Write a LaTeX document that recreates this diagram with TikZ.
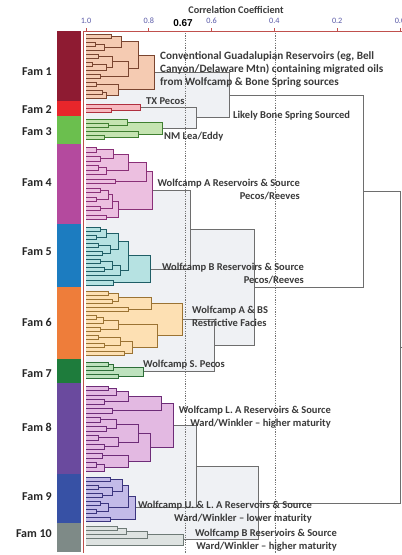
\documentclass[tikz,border=0pt]{standalone}
\usepackage{fontspec}
\setmainfont{Carlito}
\newfontfamily\arialfont{Liberation Sans}
\usetikzlibrary{calc}
\pgfdeclarelayer{bg}
\pgfdeclarelayer{G4}\pgfdeclarelayer{G3}\pgfdeclarelayer{G2}\pgfdeclarelayer{G1}
\pgfdeclarelayer{L6}\pgfdeclarelayer{L5}\pgfdeclarelayer{L4}\pgfdeclarelayer{L3}\pgfdeclarelayer{L2}\pgfdeclarelayer{L1}
\pgfsetlayers{bg,G4,G3,G2,G1,L6,L5,L4,L3,L2,L1,main}
\definecolor{AnnC}{HTML}{3A3A3A}
\definecolor{TickC}{HTML}{5A5AA8}
\definecolor{AxisC}{HTML}{C0504D}
\definecolor{B1}{HTML}{8E1B32}
\definecolor{B2}{HTML}{E8262B}
\definecolor{B3}{HTML}{6BBF4E}
\definecolor{B4}{HTML}{B44A9E}
\definecolor{B5}{HTML}{1C7CC0}
\definecolor{B6}{HTML}{EE7D3A}
\definecolor{B7}{HTML}{1E7C3C}
\definecolor{B8}{HTML}{6A4A9E}
\definecolor{B9}{HTML}{3751A5}
\definecolor{B10}{HTML}{7E8A87}
\newcommand\famstyle[3]{\definecolor{#1F}{HTML}{#2}\definecolor{#1L}{HTML}{#3}%
  \tikzset{#1fill/.style={fill=#1F},#1line/.style={draw=#1L,line width=0.65pt}}}
\famstyle{f1}{F5CBB2}{7A4530}
\famstyle{f2}{F7B9C0}{B0303F}
\famstyle{f3}{C5E4B1}{3F7F30}
\famstyle{f4}{ECBFE0}{8A3078}
\famstyle{f5}{B6E2E2}{1F5E66}
\famstyle{f6}{FDE0B3}{9B7333}
\famstyle{f7}{BEE2BE}{2D6E38}
\famstyle{f8}{E3B9E2}{6E2C78}
\famstyle{f9}{C3BBE8}{3B357E}
\famstyle{f10}{DEE3E1}{6E7A76}
\famstyle{g}{EFF1F4}{6E6E6E}
\definecolor{tL}{HTML}{6E6E6E}
\tikzset{tfill/.style={},tline/.style={draw=tL,line width=0.65pt}}
% merge box: layer, name, x, child a, child b, style prefix
\newcommand\mrg[6]{%
  \begin{pgfonlayer}{#1}
  \path let \p1=(#4),\p2=(#5) in (#3pt,{(\y1+\y2)/2}) coordinate (#2);
  \path[#6fill] let \p1=(#4),\p2=(#5) in (86pt,\y1) rectangle (#3pt,\y2);
  \path[#6line] let \p1=(#4),\p2=(#5) in (\x1,\y1) -- (#3pt,\y1) -- (#3pt,\y2) -- (\x2,\y2);
  \end{pgfonlayer}}
\tikzset{
  ann/.style={font=\bfseries\fontsize{10.5}{13}\selectfont,text=AnnC,inner sep=0pt},
  famlab/.style={font=\bfseries\fontsize{12}{13}\selectfont,text=black!85,inner sep=0pt,anchor=east},
  ticklab/.style={font=\fontsize{8.2}{9}\selectfont,text=TickC,inner sep=0pt},
  axisline/.style={draw=AxisC,line width=0.8pt},
  dashline/.style={draw=black!55,line width=0.7pt,dash pattern=on 1.2pt off 1.2pt}
}
\begin{document}
\begin{tikzpicture}[x=1pt,y=-1pt]
\useasboundingbox (0,0) rectangle (402,555);
\begin{pgfonlayer}{bg}\fill[white] (0,0) rectangle (402,555);\end{pgfonlayer}
% ---------- Fam 1
\mrg{L1}{f1c1}{111}{86,34}{86,38}{f1}
\mrg{L1}{f1c2}{95}{86,42}{86,46}{f1}
\mrg{L1}{f1c5}{98}{86,54}{86,58}{f1}
\mrg{L1}{f1c6}{92}{86,62}{86,66}{f1}
\mrg{L1}{f1c9}{100}{86,74}{86,78}{f1}
\mrg{L1}{f1c11}{96}{86,82}{86,86}{f1}
\mrg{L1}{f1c12}{102}{86,90}{86,94}{f1}
\mrg{L2}{f1c3}{104}{f1c2}{86,50}{f1}
\mrg{L2}{f1c7}{106}{f1c6}{86,70}{f1}
\mrg{L2}{f1c13}{106}{f1c12}{86,98}{f1}
\mrg{L3}{f1c4}{121}{f1c1}{f1c3}{f1}
\mrg{L3}{f1c8}{112}{f1c5}{f1c7}{f1}
\mrg{L3}{f1B}{118}{f1c11}{f1c13}{f1}
\mrg{L4}{f1c10}{128}{f1c8}{f1c9}{f1}
\mrg{L5}{f1A}{138}{f1c4}{f1c10}{f1}
\mrg{L6}{f1}{154}{f1A}{f1B}{f1}
% ---------- Fam 2
\mrg{L1}{f2a}{111}{86,108}{86,112}{f2}
\mrg{L2}{f2}{140}{86,104}{f2a}{f2}
% ---------- Fam 3
\mrg{L1}{f3a}{108}{86,123}{86,127}{f3}
\mrg{L1}{f3c}{104}{86,135}{86,139}{f3}
\mrg{L2}{f3b}{127}{86,119}{f3a}{f3}
\mrg{L2}{f3d}{138}{86,131}{f3c}{f3}
\mrg{L3}{f3}{162}{f3b}{f3d}{f3}
% ---------- Fam 4
\mrg{L1}{f4u1}{96}{86,147}{86,152}{f4}
\mrg{L1}{f4u2}{100}{86,156}{86,161}{f4}
\mrg{L1}{f4u4}{98}{86,165}{86,170}{f4}
\mrg{L1}{f4u7}{115}{86,179}{86,183}{f4}
\mrg{L1}{f4d1}{100}{86,188}{86,192}{f4}
\mrg{L1}{f4d2}{96}{86,197}{86,201}{f4}
\mrg{L1}{f4d4}{100}{86,206}{86,210}{f4}
\mrg{L1}{f4d6}{106}{86,215}{86,219}{f4}
\mrg{L2}{f4u3}{113}{f4u1}{f4u2}{f4}
\mrg{L2}{f4u5}{106}{f4u4}{86,174}{f4}
\mrg{L2}{f4d3}{108}{f4d1}{f4d2}{f4}
\mrg{L3}{f4u6}{128}{f4u3}{f4u5}{f4}
\mrg{L3}{f4d5}{112}{f4d3}{f4d4}{f4}
\mrg{L4}{f4U}{146}{f4u6}{f4u7}{f4}
\mrg{L4}{f4D}{118}{f4d5}{f4d6}{f4}
\mrg{L5}{f4}{152}{f4U}{f4D}{f4}
% ---------- Fam 5
\mrg{L1}{f5a1}{100}{86,227}{86,231}{f5}
\mrg{L1}{f5a2}{96}{86,235}{86,239}{f5}
\mrg{L1}{f5a4}{98}{86,243}{86,247}{f5}
\mrg{L1}{f5a5}{102}{86,251}{86,255}{f5}
\mrg{L1}{f5a7}{100}{86,259}{86,263}{f5}
\mrg{L1}{f5a8}{104}{86,267}{86,271}{f5}
\mrg{L1}{f5B}{113}{86,280}{86,285}{f5}
\mrg{L2}{f5a3}{106}{f5a1}{f5a2}{f5}
\mrg{L2}{f5a6}{110}{f5a4}{f5a5}{f5}
\mrg{L2}{f5a9}{112}{f5a7}{f5a8}{f5}
\mrg{L3}{f5aa}{118}{f5a3}{f5a6}{f5}
\mrg{L3}{f5a10}{120}{f5a9}{86,275}{f5}
\mrg{L4}{f5A}{128}{f5aa}{f5a10}{f5}
\mrg{L5}{f5}{150}{f5A}{f5B}{f5}
% ---------- Fam 6
\mrg{L1}{f6u1}{108}{86,291}{86,295}{f6}
\mrg{L1}{f6u2}{112}{86,299}{86,303}{f6}
\mrg{L1}{f6u4}{128}{86,307}{86,311}{f6}
\mrg{L1}{f6d1}{96}{86,315}{86,319}{f6}
\mrg{L1}{f6d3}{100}{86,327}{86,331}{f6}
\mrg{L1}{f6d5}{98}{86,335}{86,339}{f6}
\mrg{L1}{f6d6}{104}{86,343}{86,347}{f6}
\mrg{L1}{f6d8}{124}{86,351}{86,355}{f6}
\mrg{L2}{f6u3}{118}{f6u1}{f6u2}{f6}
\mrg{L2}{f6d2}{103}{f6d1}{86,323}{f6}
\mrg{L2}{f6d7}{120}{f6d5}{f6d6}{f6}
\mrg{L3}{f6U}{151}{f6u3}{f6u4}{f6}
\mrg{L3}{f6d4}{118}{f6d2}{f6d3}{f6}
\mrg{L3}{f6d9}{132}{f6d7}{f6d8}{f6}
\mrg{L4}{f6D}{157}{f6d4}{f6d9}{f6}
\mrg{L5}{f6}{182}{f6U}{f6D}{f6}
% ---------- Fam 7
\mrg{L1}{f7a}{108}{86,362}{86,366}{f7}
\mrg{L1}{f7c}{118}{86,374}{86,378}{f7}
\mrg{L2}{f7b}{113}{f7a}{86,370}{f7}
\mrg{L3}{f7}{143}{f7b}{f7c}{f7}
% ---------- Fam 8
\mrg{L1}{f8u1}{108}{86,386}{86,390}{f8}
\mrg{L1}{f8u3}{104}{86,399}{86,404}{f8}
\mrg{L1}{f8u5}{112}{86,408}{86,413}{f8}
\mrg{L1}{f8d1}{100}{86,417}{86,422}{f8}
\mrg{L1}{f8d2}{106}{86,426}{86,431}{f8}
\mrg{L1}{f8d4}{98}{86,435}{86,440}{f8}
\mrg{L1}{f8d5}{104}{86,444}{86,449}{f8}
\mrg{L1}{f8d8}{102}{86,453}{86,458}{f8}
\mrg{L1}{f8d9}{96}{86,462}{86,467}{f8}
\mrg{L2}{f8u2}{116}{f8u1}{86,395}{f8}
\mrg{L2}{f8d3}{116}{f8d1}{f8d2}{f8}
\mrg{L2}{f8d6}{118}{f8d4}{f8d5}{f8}
\mrg{L2}{f8d10}{104}{f8d9}{86,471}{f8}
\mrg{L3}{f8u4}{128}{f8u2}{f8u3}{f8}
\mrg{L3}{f8d7}{138}{f8d3}{f8d6}{f8}
\mrg{L3}{f8d11}{128}{f8d8}{f8d10}{f8}
\mrg{L4}{f8U}{161}{f8u4}{f8u5}{f8}
\mrg{L4}{f8D}{150}{f8d7}{f8d11}{f8}
\mrg{L5}{f8}{173}{f8U}{f8D}{f8}
% ---------- Fam 9
\mrg{L1}{f9a1}{110}{86,477}{86,481}{f9}
\mrg{L1}{f9a2}{98}{86,485}{86,489}{f9}
\mrg{L1}{f9a3}{102}{86,493}{86,497}{f9}
\mrg{L1}{f9a6}{100}{86,501}{86,505}{f9}
\mrg{L1}{f9a7}{96}{86,509}{86,513}{f9}
\mrg{L1}{f9B}{110}{86,517}{86,521}{f9}
\mrg{L2}{f9a4}{112}{f9a2}{f9a3}{f9}
\mrg{L2}{f9a8}{108}{f9a6}{f9a7}{f9}
\mrg{L3}{f9a5}{122}{f9a1}{f9a4}{f9}
\mrg{L4}{f9A}{128}{f9a5}{f9a8}{f9}
\mrg{L5}{f9}{135}{f9A}{f9B}{f9}
% ---------- Fam 10
\mrg{L1}{f10a}{117}{86,526}{86,530}{f10}
\mrg{L2}{f10b}{126}{f10a}{86,534}{f10}
\mrg{L3}{f10c}{147}{f10b}{86,538}{f10}
\mrg{L4}{f10}{183}{f10c}{86,545}{f10}
% ---------- between families
\mrg{G1}{g23}{196}{f2}{f3}{g}
\mrg{G1}{g45}{190}{f4}{f5}{g}
\mrg{G1}{g67}{214}{f6}{f7}{g}
\mrg{G1}{g89}{196}{f8}{f9}{g}
\mrg{G2}{gA}{229}{f1}{g23}{g}
\mrg{G2}{gB}{254}{g45}{g67}{g}
\mrg{G2}{gC}{258}{g89}{f10}{g}
\mrg{G3}{gT}{363}{gA}{gB}{t}
\mrg{G4}{gR}{400}{gT}{gC}{t}
\draw[tline] (gR) -- ++(3,0);
% ---------- colour bar
\fill[B1] (57,31) rectangle (81,100.5);
\fill[B2] (57,100.5) rectangle (81,116);
\fill[B3] (57,116) rectangle (81,144);
\fill[B4] (57,144) rectangle (81,224);
\fill[B5] (57,224) rectangle (81,287);
\fill[B6] (57,287) rectangle (81,359);
\fill[B7] (57,359) rectangle (81,383);
\fill[B8] (57,383) rectangle (81,474);
\fill[B9] (57,474) rectangle (81,522.5);
\fill[B10] (57,522.5) rectangle (81,552);
% ---------- axis
\draw[axisline] (83,31) -- (402,31);
\draw[axisline,line width=0.6pt] (83,31) -- (83,553);
\foreach \xx/\lab in {86/1.0,148.8/0.8,211.6/0.6,274.4/0.4,337.2/0.2,400/0.0}{
  \draw[axisline] (\xx,31) -- (\xx,27.5);
  \node[ticklab] (tk\lab) at (\xx,21) {\lab};
}
\node[font=\arialfont\bfseries\fontsize{10}{12}\selectfont,inner sep=0pt] (t067) at (183,23) {0.67};
\node[font=\bfseries\fontsize{10.2}{12}\selectfont,text=AnnC,inner sep=0pt] (axt) at (236,10) {Correlation Coefficient};
\draw[dashline] (185,33) -- (185,553);
\draw[dashline] (275,33) -- (275,553);
% ---------- family labels
\node[famlab] (F1) at (52,72) {Fam 1};
\node[famlab] (F2) at (52,110) {Fam 2};
\node[famlab] (F3) at (52,132) {Fam 3};
\node[famlab] (F4) at (52,183) {Fam 4};
\node[famlab] (F5) at (52,252) {Fam 5};
\node[famlab] (F6) at (52,322) {Fam 6};
\node[famlab] (F7) at (52,374) {Fam 7};
\node[famlab] (F8) at (52,427) {Fam 8};
\node[famlab] (F9) at (52,497) {Fam 9};
\node[famlab] (F10) at (52,534) {Fam 10};
% ---------- annotations
\node[ann,font=\bfseries\fontsize{11.2}{13}\selectfont,align=left,anchor=west] (n1) at (160,69) {Conventional Guadalupian Reservoirs (eg, Bell\\Canyon/Delaware Mtn) containing migrated oils\\from Wolfcamp \& Bone Spring sources};
\node[ann,anchor=west] (n2) at (146,101) {TX Pecos};
\node[ann,anchor=west] (n3) at (233,116) {Likely Bone Spring Sourced};
\node[ann,anchor=west] (n4) at (164,137) {NM Lea/Eddy};
\node[ann,align=right,anchor=east] (n5) at (300,189.5) {Wolfcamp A Reservoirs \& Source\\Pecos/Reeves};
\node[ann,align=right,anchor=east] (n6) at (304,273.5) {Wolfcamp B Reservoirs \& Source\\Pecos/Reeves};
\node[ann,align=left,anchor=west] (n7) at (192,316) {Wolfcamp A \& BS\\Restrictive Facies};
\node[ann,anchor=west] (n8) at (143,365) {Wolfcamp S. Pecos};
\node[ann,align=right,anchor=east] (n9) at (331,417.5) {Wolfcamp L. A Reservoirs \& Source\\Ward/Winkler -- higher maturity};
\node[ann,align=right,anchor=east] (n10) at (312,512.5) {Wolfcamp U. \& L. A Reservoirs \& Source\\Ward/Winkler -- lower maturity};
\node[ann,align=right,anchor=east] (n11) at (337,540) {Wolfcamp B Reservoirs \& Source\\Ward/Winkler -- higher maturity};
\end{tikzpicture}
\end{document}
